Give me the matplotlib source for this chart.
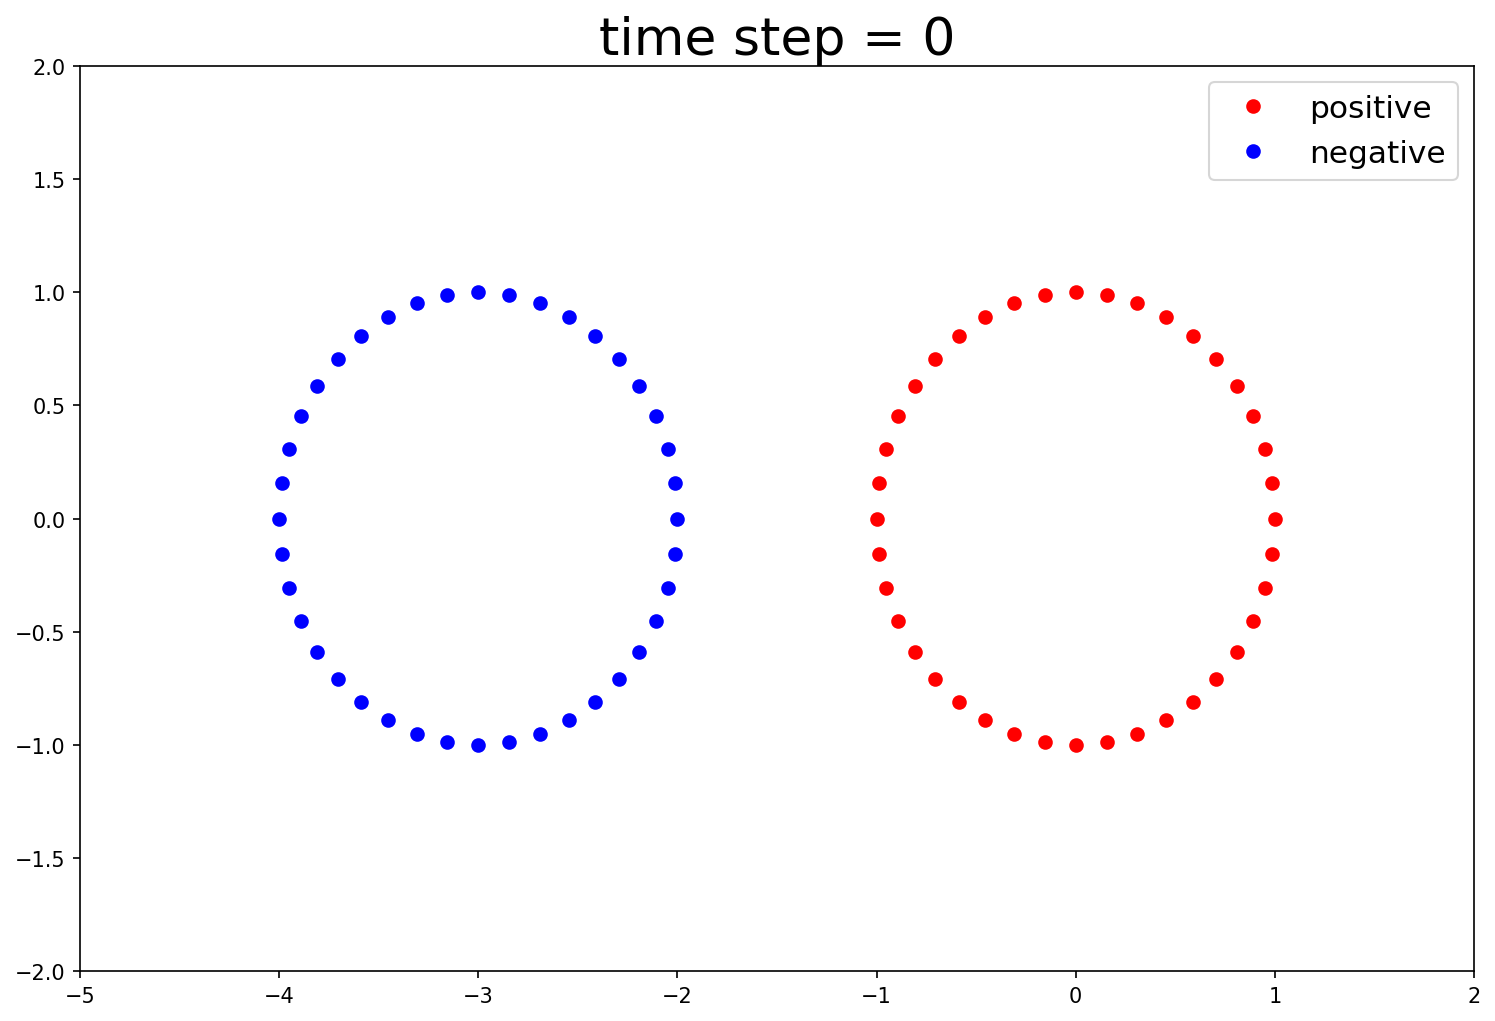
import matplotlib
matplotlib.use("Agg")
import matplotlib.pyplot as plt

# point positions (time step 0)
pos_x = [1.000, 0.988, 0.951, 0.891, 0.809, 0.707, 0.588, 0.454, 0.309, 0.156,
         0.000, -0.156, -0.309, -0.454, -0.588, -0.707, -0.809, -0.891, -0.951, -0.988,
         -1.000, -0.988, -0.951, -0.891, -0.809, -0.707, -0.588, -0.454, -0.309, -0.156,
         0.000, 0.156, 0.309, 0.454, 0.588, 0.707, 0.809, 0.891, 0.951, 0.988]
pos_y = [0.000, 0.156, 0.309, 0.454, 0.588, 0.707, 0.809, 0.891, 0.951, 0.988,
         1.000, 0.988, 0.951, 0.891, 0.809, 0.707, 0.588, 0.454, 0.309, 0.156,
         0.000, -0.156, -0.309, -0.454, -0.588, -0.707, -0.809, -0.891, -0.951, -0.988,
         -1.000, -0.988, -0.951, -0.891, -0.809, -0.707, -0.588, -0.454, -0.309, -0.156]
neg_x = [-2.000, -2.012, -2.049, -2.109, -2.191, -2.293, -2.412, -2.546, -2.691, -2.844,
         -3.000, -3.156, -3.309, -3.454, -3.588, -3.707, -3.809, -3.891, -3.951, -3.988,
         -4.000, -3.988, -3.951, -3.891, -3.809, -3.707, -3.588, -3.454, -3.309, -3.156,
         -3.000, -2.844, -2.691, -2.546, -2.412, -2.293, -2.191, -2.109, -2.049, -2.012]
neg_y = [0.000, 0.156, 0.309, 0.454, 0.588, 0.707, 0.809, 0.891, 0.951, 0.988,
         1.000, 0.988, 0.951, 0.891, 0.809, 0.707, 0.588, 0.454, 0.309, 0.156,
         0.000, -0.156, -0.309, -0.454, -0.588, -0.707, -0.809, -0.891, -0.951, -0.988,
         -1.000, -0.988, -0.951, -0.891, -0.809, -0.707, -0.588, -0.454, -0.309, -0.156]
step = 0

fig, ax = plt.subplots(figsize=(9.973, 6.813), dpi=150)
fig.subplots_adjust(left=0.0535, right=0.9853, top=0.9344, bottom=0.0489)
ax.plot(pos_x, pos_y, "ro", label="positive")
ax.plot(neg_x, neg_y, "bo", label="negative")
ax.set_xlim(-5, 2)
ax.set_ylim(-2, 2)
ax.set_title("time step = %d" % step, fontsize=25)
ax.legend(fontsize=15)
fig.savefig("out.png", dpi=150)
